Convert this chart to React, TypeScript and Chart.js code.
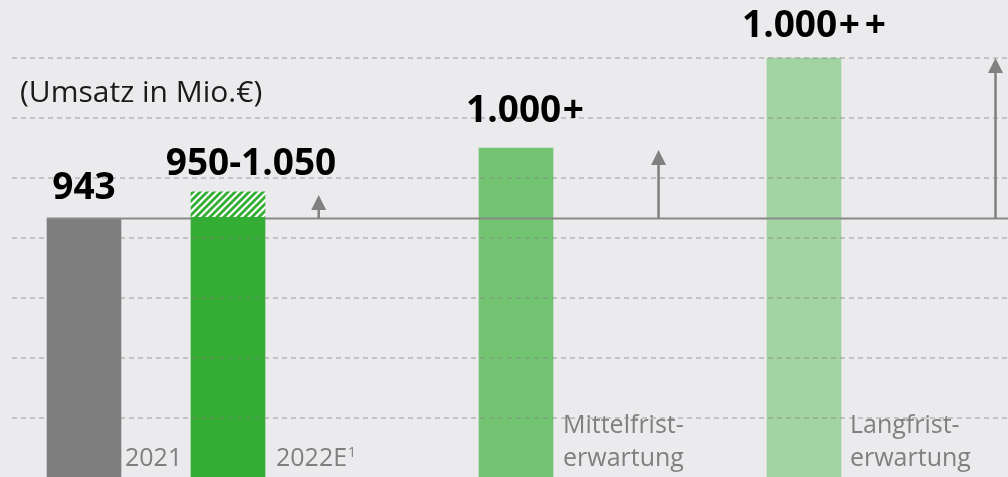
import { useEffect, useRef } from "react";
import { Chart, registerables } from "chart.js";

Chart.register(...registerables);

// ---- data ----
const CATEGORIES = ["2021", "2022E", "Mittelfrist-\nerwartung", "Langfrist-\nerwartung"];
const CATEGORY_FOOTNOTES = ["", "1", "", ""];
const CATEGORY_X = [0, 1, 3, 5];
const BAR_VALUES = [943, 950, 1225, 1585];
const RANGE_2022 = [950, 1050];
const VALUE_LABELS = ["943", "950-1.050", "1.000+", "1.000++"];
const REFERENCE_VALUE = 943;
const ARROW_X = [1.63, 3.99, 6.33];
const ARROW_TOP = [1037, 1217, 1585];
const GRID_VALUES = [145, 385, 625, 865, 1105, 1345, 1585];
const AXIS_TITLE = "(Umsatz in Mio.€)";
const Y_MIN = -95;
const Y_MAX = 1817;
const X_MIN = -0.5;
const X_MAX = 6.4167;

// ---- styles ----
const BG = "#ebebed";
const BAR_COLORS = ["#7f7f7f", "#34ad34", "#72c472", "#a2d3a2"];
const HATCH_COLOR = "#34ad34";
const LABEL_DX = [0, 23, 9, 10];
const LABEL_DY = [20, 17, 26, 21];
const CAT_DX = [4, 11, 10, 9];
const FONT = '"Open Sans", "DejaVu Sans", sans-serif';

function makeHatch(): CanvasPattern | string {
  const s = 7;
  const c = document.createElement("canvas");
  c.width = s;
  c.height = s;
  const g = c.getContext("2d");
  if (!g) return HATCH_COLOR;
  g.fillStyle = "#ffffff";
  g.fillRect(0, 0, s, s);
  g.strokeStyle = HATCH_COLOR;
  g.lineWidth = 2.8;
  g.beginPath();
  g.moveTo(-1, s + 1);
  g.lineTo(s + 1, -1);
  g.moveTo(-2, 2);
  g.lineTo(2, -2);
  g.moveTo(s - 2, s + 2);
  g.lineTo(s + 2, s - 2);
  g.stroke();
  const p = g.createPattern(c, "repeat");
  return p || HATCH_COLOR;
}

function drawLabel(ctx: any, text: string, cx: number, y: number) {
  // split trailing plus signs so they can be spaced like the original typesetting
  const m = text.match(/^(.*?)(\++)$/);
  const main = m ? m[1] : text;
  const plus = m ? m[2] : "";
  const gap = plus ? 1.5 : 0;
  const ls = plus.length > 1 ? 5 : 0;
  ctx.letterSpacing = "0px";
  const wMain = ctx.measureText(main).width;
  ctx.letterSpacing = `${ls}px`;
  const wPlus = plus ? ctx.measureText(plus).width - ls : 0;
  const total = wMain + gap + wPlus;
  const x0 = cx - total / 2;
  ctx.textAlign = "left";
  ctx.letterSpacing = "0px";
  ctx.fillText(main, x0, y);
  if (plus) {
    ctx.letterSpacing = `${ls}px`;
    ctx.fillText(plus, x0 + wMain + gap, y);
    ctx.letterSpacing = "0px";
  }
}

const overlayPlugin = {
  id: "overlay",
  beforeDraw(chart: any) {
    const ctx = chart.ctx;
    ctx.save();
    ctx.fillStyle = BG;
    ctx.fillRect(0, 0, chart.width, chart.height);
    ctx.restore();
  },
  afterDatasetsDraw(chart: any) {
    const ctx = chart.ctx;
    const xs = chart.scales.x;
    const ys = chart.scales.y;
    const area = chart.chartArea;
    const bars = chart.getDatasetMeta(0).data;
    ctx.save();

    // dashed grid lines (over bars, translucent)
    ctx.setLineDash([5, 4]);
    ctx.strokeStyle = "rgba(130,130,130,0.5)";
    ctx.lineWidth = 1.5;
    GRID_VALUES.forEach((v) => {
      const y = Math.round(ys.getPixelForValue(v));
      ctx.beginPath();
      ctx.moveTo(area.left, y);
      ctx.lineTo(area.right, y);
      ctx.stroke();
    });
    ctx.setLineDash([]);

    // reference line
    const yRef = ys.getPixelForValue(REFERENCE_VALUE);
    const b0 = bars[0];
    const b1 = bars[1];
    ctx.strokeStyle = "#8a8a8a";
    ctx.lineWidth = 2;
    ctx.beginPath();
    ctx.moveTo(b0.x - b0.width / 2, yRef);
    ctx.lineTo(b1.x - b1.width / 2, yRef);
    ctx.moveTo(b1.x + b1.width / 2, yRef);
    ctx.lineTo(area.right, yRef);
    ctx.stroke();

    // arrows
    ARROW_X.forEach((ax, i) => {
      const x = xs.getPixelForValue(ax);
      const yTip = ys.getPixelForValue(ARROW_TOP[i]);
      const headH = 15;
      const headW = 7.5;
      ctx.strokeStyle = "#808080";
      ctx.fillStyle = "#808080";
      ctx.lineWidth = 2.5;
      ctx.beginPath();
      ctx.moveTo(x, yRef);
      ctx.lineTo(x, yTip + headH - 1);
      ctx.stroke();
      ctx.beginPath();
      ctx.moveTo(x, yTip);
      ctx.lineTo(x - headW, yTip + headH);
      ctx.lineTo(x + headW, yTip + headH);
      ctx.closePath();
      ctx.fill();
    });

    // value labels
    ctx.fillStyle = "#000000";
    ctx.font = `bold 37px ${FONT}`;
    ctx.textBaseline = "alphabetic";
    VALUE_LABELS.forEach((t, i) => {
      const bar = bars[i];
      const topVal = i === 1 ? RANGE_2022[1] : BAR_VALUES[i];
      const yTop = ys.getPixelForValue(topVal);
      drawLabel(ctx, t, bar.x + LABEL_DX[i], yTop - LABEL_DY[i]);
    });

    // category labels
    ctx.fillStyle = "#7f7f7f";
    ctx.textAlign = "left";
    const baseLine = 466;
    CATEGORIES.forEach((c, i) => {
      const bar = bars[i];
      const x = bar.x + bar.width / 2 + CAT_DX[i];
      const lines = c.split("\n");
      ctx.font = `25px ${FONT}`;
      lines.forEach((ln, j) => {
        const y = baseLine - (lines.length - 1 - j) * 33;
        ctx.fillText(ln, x, y);
        if (j === lines.length - 1 && CATEGORY_FOOTNOTES[i]) {
          const w = ctx.measureText(ln).width;
          ctx.font = `14px ${FONT}`;
          ctx.fillText(CATEGORY_FOOTNOTES[i], x + w + 1, y - 9);
          ctx.font = `25px ${FONT}`;
        }
      });
    });

    // axis title
    ctx.fillStyle = "#1a1a1a";
    ctx.font = `30px ${FONT}`;
    ctx.fillText(AXIS_TITLE, area.left + 8, 102);

    ctx.restore();
  },
};

export default function App() {
  const ref = useRef<HTMLCanvasElement>(null);
  useEffect(() => {
    document.body.style.margin = "0";
    document.body.style.overflow = "hidden";
    document.body.style.background = BG;
    const canvas = ref.current;
    if (!canvas) return;
    const hatch = makeHatch();
    const chart = new Chart(canvas, {
      type: "bar",
      data: {
        datasets: [
          {
            data: CATEGORY_X.map((x, i) => ({ x, y: BAR_VALUES[i] })),
            backgroundColor: BAR_COLORS,
            base: Y_MIN,
            barThickness: 74,
            grouped: false,
            borderWidth: 0,
            order: 1,
          } as any,
          {
            data: [{ x: CATEGORY_X[1], y: RANGE_2022 }],
            backgroundColor: hatch,
            barThickness: 74,
            grouped: false,
            borderWidth: 0,
            order: 0,
          } as any,
        ],
      },
      options: {
        responsive: false,
        animation: false,
        devicePixelRatio: 1,
        events: [],
        layout: { padding: { left: 12, right: 0, top: 0, bottom: 0 } },
        plugins: { legend: { display: false }, tooltip: { enabled: false } },
        scales: {
          x: { type: "linear", min: X_MIN, max: X_MAX, display: false, offset: false },
          y: { type: "linear", min: Y_MIN, max: Y_MAX, display: false },
        },
      },
      plugins: [overlayPlugin],
    });
    return () => chart.destroy();
  }, []);
  return <canvas ref={ref} width={1008} height={478} style={{ display: "block" }} />;
}
